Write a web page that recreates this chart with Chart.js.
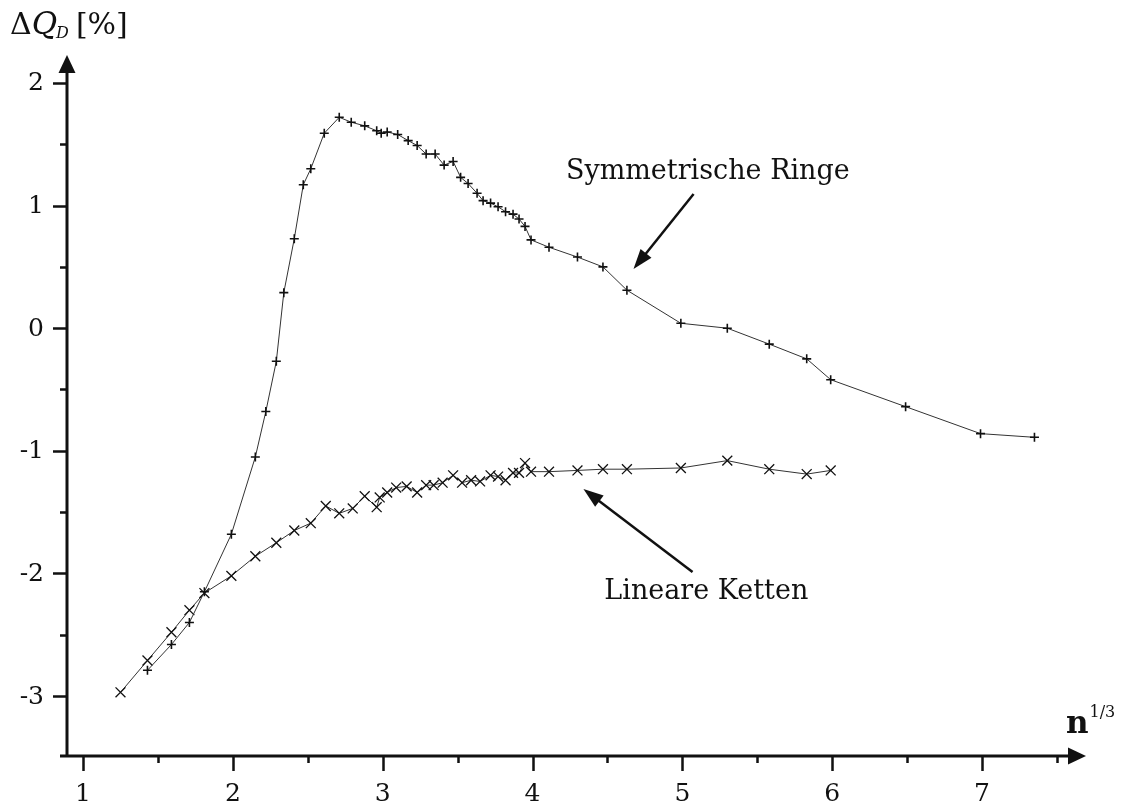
<!DOCTYPE html>
<html>
<head>
<meta charset="utf-8">
<script src="https://cdn.jsdelivr.net/npm/chart.js@4.4.0/dist/chart.umd.min.js"></script>
<style>
  html, body { margin: 0; padding: 0; background: #fff; }
  canvas { display: block; }
</style>
</head>
<body>
<canvas id="chart" width="1126" height="803"></canvas>
<script>
// Symmetrische Ringe (+)
const ringeX = [1.43, 1.59, 1.71, 1.81, 1.99, 2.15, 2.22, 2.29, 2.34, 2.41, 2.47, 2.52, 2.61, 2.71, 2.79,
    2.88, 2.96, 2.99, 3.03, 3.10, 3.17, 3.23, 3.29, 3.35, 3.41, 3.47, 3.52, 3.57, 3.63, 3.67,
    3.72, 3.77, 3.82, 3.87, 3.91, 3.95, 3.99, 4.11, 4.30, 4.47, 4.63, 4.99, 5.30, 5.58, 5.83,
    5.99, 6.49, 6.99, 7.35];
const ringeY = [-2.79, -2.58, -2.40, -2.15, -1.68, -1.05, -0.68, -0.27, 0.29, 0.73, 1.17, 1.30, 1.59, 1.72, 1.68,
    1.65, 1.61, 1.59, 1.60, 1.58, 1.53, 1.49, 1.42, 1.42, 1.33, 1.36, 1.23, 1.18, 1.10, 1.04,
    1.02, 0.99, 0.95, 0.93, 0.89, 0.83, 0.72, 0.66, 0.58, 0.50, 0.31, 0.04, 0.00, -0.13, -0.25,
    -0.42, -0.64, -0.86, -0.89];

// Lineare Ketten (x)
const ketteX = [1.25, 1.43, 1.59, 1.71, 1.81, 1.99, 2.15, 2.29, 2.41, 2.52, 2.62, 2.71, 2.80, 2.88, 2.96,
    2.98, 3.03, 3.09, 3.16, 3.23, 3.29, 3.34, 3.40, 3.47, 3.53, 3.59, 3.65, 3.72, 3.77, 3.82,
    3.87, 3.91, 3.95, 3.99, 4.11, 4.30, 4.47, 4.63, 4.99, 5.30, 5.58, 5.83, 5.99];
const ketteY = [-2.97, -2.71, -2.48, -2.30, -2.16, -2.02, -1.86, -1.75, -1.65, -1.59, -1.45, -1.51, -1.47, -1.37, -1.46,
    -1.38, -1.34, -1.30, -1.29, -1.34, -1.28, -1.28, -1.26, -1.20, -1.26, -1.24, -1.25, -1.20, -1.21, -1.24,
    -1.18, -1.18, -1.10, -1.17, -1.17, -1.16, -1.15, -1.15, -1.14, -1.08, -1.15, -1.19, -1.16];

// axis ticks
const xTicks = [1, 2, 3, 4, 5, 6, 7];
const xMinorTicks = [1.5, 2.5, 3.5, 4.5, 5.5, 6.5, 7.5];
const yTicks = [-3, -2, -1, 0, 1, 2];
const yMinorTicks = [-2.5, -1.5, -0.5, 0.5, 1.5];

const FONT = '"DejaVu Serif", "Liberation Serif", serif';
const INK = '#111';

function toPoints(xs, ys) {
    return xs.map((x, i) => ({ x: x, y: ys[i] }));
}

function arrowHead(ctx, x1, y1, x2, y2, len, half) {
    const a = Math.atan2(y2 - y1, x2 - x1);
    ctx.beginPath();
    ctx.moveTo(x2, y2);
    ctx.lineTo(x2 - len * Math.cos(a) + half * Math.sin(a), y2 - len * Math.sin(a) - half * Math.cos(a));
    ctx.lineTo(x2 - len * Math.cos(a) - half * Math.sin(a), y2 - len * Math.sin(a) + half * Math.cos(a));
    ctx.closePath();
    ctx.fill();
}

function arrow(ctx, x1, y1, x2, y2, len, half, width) {
    const a = Math.atan2(y2 - y1, x2 - x1);
    ctx.lineWidth = width;
    ctx.beginPath();
    ctx.moveTo(x1, y1);
    ctx.lineTo(x2 - (len - 2) * Math.cos(a), y2 - (len - 2) * Math.sin(a));
    ctx.stroke();
    arrowHead(ctx, x1, y1, x2, y2, len, half);
}

// draws axes with arrows, ticks, labels and annotations
const axesPlugin = {
    id: 'axesPlugin',
    afterDraw(chart) {
        const ctx = chart.ctx;
        const xs = chart.scales.x;
        const ys = chart.scales.y;
        const area = chart.chartArea;
        ctx.save();
        ctx.strokeStyle = INK;
        ctx.fillStyle = INK;
        ctx.lineCap = 'butt';

        const ax = area.left;
        const ay = area.bottom;

        // axis lines
        ctx.lineWidth = 3;
        ctx.beginPath();
        ctx.moveTo(ax - 7, ay);
        ctx.lineTo(area.right - 14, ay);
        ctx.moveTo(ax, ay + 1.5);
        ctx.lineTo(ax, area.top + 14);
        ctx.stroke();
        arrowHead(ctx, ax, ay, area.right, ay, 18, 8.5);
        arrowHead(ctx, ax, ay, ax, area.top, 18, 8.5);

        // ticks
        ctx.lineWidth = 2.5;
        ctx.beginPath();
        xTicks.forEach(v => {
            const px = Math.round(xs.getPixelForValue(v)) + 0.5;
            ctx.moveTo(px, ay);
            ctx.lineTo(px, ay + 15);
        });
        xMinorTicks.forEach(v => {
            const px = Math.round(xs.getPixelForValue(v)) + 0.5;
            ctx.moveTo(px, ay);
            ctx.lineTo(px, ay + 7);
        });
        yTicks.forEach(v => {
            const py = Math.round(ys.getPixelForValue(v)) + 0.5;
            ctx.moveTo(ax, py);
            ctx.lineTo(ax - 14, py);
        });
        yMinorTicks.forEach(v => {
            const py = Math.round(ys.getPixelForValue(v)) + 0.5;
            ctx.moveTo(ax, py);
            ctx.lineTo(ax - 7, py);
        });
        ctx.stroke();

        // tick labels
        ctx.font = '25px ' + FONT;
        ctx.textAlign = 'center';
        ctx.textBaseline = 'alphabetic';
        xTicks.forEach(v => {
            ctx.fillText(String(v), xs.getPixelForValue(v), ay + 45);
        });
        ctx.textAlign = 'right';
        ctx.textBaseline = 'middle';
        yTicks.forEach(v => {
            ctx.fillText(String(v), ax - 23, ys.getPixelForValue(v) + 1);
        });

        // y axis title: ΔQ_D [%]
        ctx.textAlign = 'left';
        ctx.textBaseline = 'alphabetic';
        let tx = 10;
        ctx.font = '30px ' + FONT;
        ctx.fillText('Δ', tx, 34);
        tx += ctx.measureText('Δ').width;
        ctx.font = 'italic 31px ' + FONT;
        ctx.fillText('Q', tx, 34);
        tx += ctx.measureText('Q').width - 1;
        ctx.font = 'italic 16px ' + FONT;
        ctx.fillText('D', tx, 38);
        tx += ctx.measureText('D').width + 7;
        ctx.font = '30px ' + FONT;
        ctx.fillText('[%]', tx, 34);

        // x axis title: n^(1/3)
        ctx.font = 'bold 31px ' + FONT;
        ctx.fillText('n', 1066, 733);
        const nw = ctx.measureText('n').width;
        ctx.font = '16px ' + FONT;
        ctx.fillText('1/3', 1066 + nw + 1, 717);

        // annotations
        ctx.font = '27px ' + FONT;
        ctx.textAlign = 'center';
        ctx.textBaseline = 'middle';
        ctx.fillText('Symmetrische Ringe', xs.getPixelForValue(5.17), ys.getPixelForValue(1.27));
        ctx.fillText('Lineare Ketten', xs.getPixelForValue(5.16), ys.getPixelForValue(-2.15));
        arrow(ctx, xs.getPixelForValue(5.075), ys.getPixelForValue(1.095),
            xs.getPixelForValue(4.674), ys.getPixelForValue(0.483), 20, 7, 2.5);
        arrow(ctx, xs.getPixelForValue(5.068), ys.getPixelForValue(-1.989),
            xs.getPixelForValue(4.34), ys.getPixelForValue(-1.312), 20, 7, 2.5);

        ctx.restore();
    }
};

const ctx = document.getElementById('chart').getContext('2d');
new Chart(ctx, {
    type: 'scatter',
    data: {
        datasets: [{
            label: 'Symmetrische Ringe',
            data: toPoints(ringeX, ringeY),
            showLine: true,
            borderColor: '#333',
            borderWidth: 1,
            pointStyle: 'cross',
            pointRadius: 4.5,
            pointBorderWidth: 1.6,
            pointBorderColor: INK,
            pointBackgroundColor: INK,
            tension: 0
        }, {
            label: 'Lineare Ketten',
            data: toPoints(ketteX, ketteY),
            showLine: true,
            borderColor: '#333',
            borderWidth: 1,
            pointStyle: 'crossRot',
            pointRadius: 7,
            pointBorderWidth: 1.3,
            pointBorderColor: INK,
            pointBackgroundColor: INK,
            tension: 0
        }]
    },
    options: {
        responsive: false,
        animation: false,
        events: [],
        layout: {
            padding: { left: 67, right: 40, top: 55, bottom: 47 }
        },
        plugins: {
            legend: { display: false },
            tooltip: { enabled: false }
        },
        scales: {
            x: {
                type: 'linear',
                display: false,
                min: 0.893,
                max: 7.694
            },
            y: {
                type: 'linear',
                display: false,
                min: -3.489,
                max: 2.228
            }
        }
    },
    plugins: [axesPlugin]
});
</script>
</body>
</html>
